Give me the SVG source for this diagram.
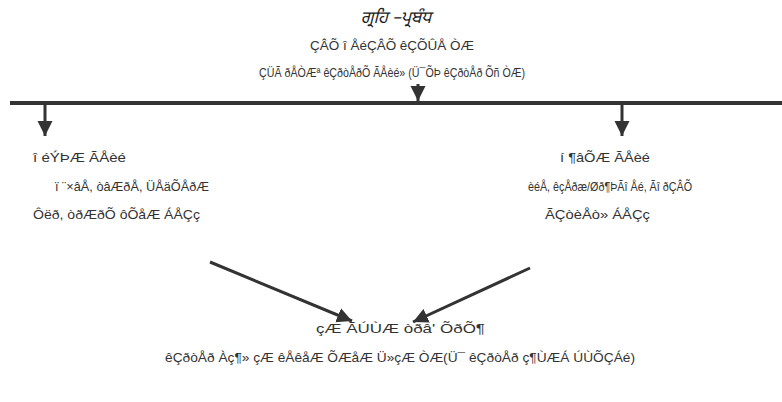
<svg xmlns="http://www.w3.org/2000/svg" width="782" height="402" viewBox="0 0 782 402">
<defs>
<style>
.t{font-family:"Liberation Sans",Arial,sans-serif;font-size:13.5px;fill:#333}
.title{font-family:"Noto Sans Gurmukhi","Noto Sans",sans-serif;font-size:17px;font-style:italic;fill:#222;text-anchor:middle}
.ln{stroke:#333;stroke-width:3;fill:none}
</style>
<marker id="ah" viewBox="0 0 10 10" refX="10" refY="5" markerWidth="5" markerHeight="5.5" orient="auto" markerUnits="strokeWidth">
<path d="M0,0 L10,5 L0,10 z" fill="#333"/>
</marker>
</defs>
<rect width="782" height="402" fill="#fff"/>
<g id="header">
<text class="title" x="396" y="23">ਗ੍ਰਹਿ –ਪ੍ਰਬੰਧ</text>
<text class="t" x="310" y="50" textLength="164" lengthAdjust="spacingAndGlyphs">ÇÂÕ î ÅéÇÂÕ êÇÕÛÅ ÒÆ</text>
<text class="t" x="259" y="77" textLength="266" lengthAdjust="spacingAndGlyphs">ÇÜÃ ðÅÒÆª êÇðòÅðÕ ÃÅèé» (Ü¯ÕÞ êÇðòÅð Õñ ÒÆ)</text>
</g>
<g id="human">
<text class="t" x="33" y="162" textLength="93" lengthAdjust="spacingAndGlyphs">î éÝÞÆ ÃÅèé</text>
<text class="t" x="55" y="191" textLength="154" lengthAdjust="spacingAndGlyphs">ï ¨×âÅ, òâÆðÅ, ÜÅäÕÅðÆ</text>
<text class="t" x="33" y="219" textLength="167" lengthAdjust="spacingAndGlyphs">Ôëð, òðÆðÕ ôÕåÆ ÁÅÇç</text>
</g>
<g id="material">
<text class="t" x="560" y="162" textLength="90" lengthAdjust="spacingAndGlyphs">í ¶âÕÆ ÃÅèé</text>
<text class="t" x="528" y="191" textLength="164" lengthAdjust="spacingAndGlyphs">èéÅ, êçÅðæ/Øð¶ÞÃî Åé, Ãî ðÇÂÕ</text>
<text class="t" x="545" y="219" textLength="105" lengthAdjust="spacingAndGlyphs">ÃÇòèÅò» ÁÅÇç</text>
</g>
<g id="result">
<text class="t" x="316" y="333" textLength="169" lengthAdjust="spacingAndGlyphs">çÆ ÃÚÙÆ òðâ' ÕðÕ¶</text>
<text class="t" x="165" y="362" textLength="470" lengthAdjust="spacingAndGlyphs">êÇðòÅð Àç¶» çÆ êÅêåÆ ÕÆåÆ Ü»çÆ ÒÆ(Ü¯ êÇðòÅð ç¶ÙÆÁ ÚÙÕÇÁé)</text>
</g>
<g id="connectors">
<line x1="10" y1="103" x2="782" y2="103" stroke="#333" stroke-width="4"/>
<line class="ln" x1="418" y1="84" x2="418" y2="101" marker-end="url(#ah)"/>
<line class="ln" x1="45" y1="105" x2="45" y2="136" marker-end="url(#ah)"/>
<line class="ln" x1="622" y1="105" x2="622" y2="136" marker-end="url(#ah)"/>
<line class="ln" x1="210" y1="262" x2="352" y2="321" marker-end="url(#ah)"/>
<line class="ln" x1="530" y1="268" x2="413" y2="322" marker-end="url(#ah)"/>
</g>
</svg>
